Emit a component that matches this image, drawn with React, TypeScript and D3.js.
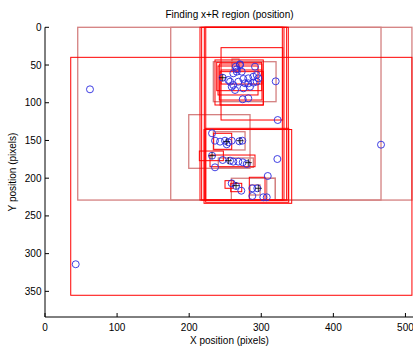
import React from "react";
import * as d3 from "d3";

const W = 413;
const H = 349;

// Axis ticks
const xTicks = [0, 100, 200, 300, 400, 500];
const yTicks = [0, 50, 100, 150, 200, 250, 300, 350];

// Search regions [x1, y1, x2, y2] in image pixels
const regionsStrong: [number, number, number, number][] = [
  [35.7, 39.8, 509, 355.2],
  [215, 0, 337.5, 229],
  [217.3, 0, 335.2, 229],
  [221, 0, 331.5, 229],
  [223, 0, 329.2, 229],
  [244.2, 27, 329.8, 122.9],
  [235.8, 43.3, 302.8, 103],
  [238.2, 46.4, 300.6, 84],
  [241.8, 48.6, 301, 96.4],
  [240, 51.3, 295.5, 89.7],
  [244.2, 56.6, 301, 75.2],
  [242.8, 58.8, 302.8, 103],
  [222.9, 133.9, 338.1, 231.9],
  [220.6, 135.5, 342.2, 233.3],
  [214.1, 164, 247.4, 176.8],
  [234, 140.5, 259, 161.7],
  [228.9, 169.3, 291.3, 184.8],
  [249.7, 203.3, 261.2, 213.4],
  [257.6, 206.8, 272.9, 217.9],
  [283.4, 198.8, 305.2, 228.9],
];

const regionsFaint: [number, number, number, number][] = [
  [45.4, 0, 509, 229],
  [174.4, 0, 466.1, 229],
  [233.5, 45.6, 320.5, 98.6],
  [259.4, 42, 269.1, 56.6],
  [199.4, 115.8, 284.4, 186.9],
  [233.5, 138.4, 277.5, 162.6],
  [240.4, 173.2, 289, 185.6],
  [258.5, 200.1, 319.5, 228.9],
  [307.6, 200.1, 319.5, 228.9],
  [284.4, 209, 298.3, 222.3],
];

// Detected positions
const pointX = [
  62.4, 320, 466.1, 42.6, 322.8, 322.3, 309,
  264.6, 270.5, 291.3, 275.1, 256.7, 282, 293.7, 261.2, 274.3, 282, 246.5, 266,
  289, 295.9, 270.5, 266, 261.2, 272.9, 293.7, 282, 268.2, 277.5, 289, 259,
  263.6, 275.1, 284.4, 254.3,
  231.7, 235.8, 242.8, 249.7, 254.3, 259, 252.1, 269.6, 273.7, 231.7, 246.5,
  235.8, 256.7, 261.2, 268.2, 274.3, 279.8,
  259, 265, 272.3, 287.6, 287.6, 294.5, 302.8, 307.6,
];
const pointY = [
  82.2, 71.6, 155.6, 314.1, 122.9, 174.6, 197.1,
  52.2, 50, 52.2, 68.5, 72.1, 74.2, 72.1, 76.5, 95.4, 94.1, 66.8, 58.8,
  65.5, 67.6, 49, 55.7, 61, 58.8, 63.2, 67.6, 72.1, 74.2, 73.4, 78.7,
  83.1, 80.9, 78.7, 69.8,
  140.5, 150.3, 151.6, 150.3, 152.4, 150.3, 155.1, 151.1, 150.3, 170.2, 175.9,
  185.6, 176.8, 178.1, 178.1, 178.9, 181.2,
  206.8, 210.3, 216.6, 213.4, 223.6, 213.4, 225.3, 225.3,
];

// Region centres
const centerX = [246.5, 231.7, 254.3, 282, 270.5, 265, 295.9, 252.1];
const centerY = [66.8, 170.2, 176.8, 179.4, 150.3, 209.9, 213.4, 151.6];

const FONT = "'Liberation Sans', Arial, Helvetica, sans-serif";

export default function App() {
  const x = d3.scaleLinear().domain([0, 512]).range([45, 414.1]);
  const y = d3.scaleLinear().domain([0, 384]).range([27.3, 317]);
  const tickLen = 4;

  const rect = (r: [number, number, number, number], i: number, stroke: string, sw: number) => (
    <rect
      key={i}
      x={x(r[0])}
      y={y(r[1])}
      width={x(r[2]) - x(r[0])}
      height={y(r[3]) - y(r[1])}
      fill="none"
      stroke={stroke}
      strokeWidth={sw}
    />
  );

  return (
    <svg
      width={W}
      height={H}
      style={{ position: "absolute", left: 0, top: 0, background: "#fff" }}
      fontFamily={FONT}
    >
      <rect x={0} y={0} width={W} height={H} fill="#fff" />
      <defs>
        <clipPath id="plot">
          <rect x={x(0)} y={y(0) - 2} width={x(512) - x(0)} height={y(384) - y(0) + 2} />
        </clipPath>
      </defs>
      <g clipPath="url(#plot)">
        {regionsFaint.map((r, i) => rect(r, i, "rgb(212,128,128)", 1.3))}
        {regionsStrong.map((r, i) => rect(r, i, "#ff0000", 1))}
        {pointX.map((px, i) => (
          <circle
            key={i}
            cx={x(px)}
            cy={y(pointY[i])}
            r={3.5}
            fill="none"
            stroke="#2a2ae0"
            strokeWidth={0.9}
          />
        ))}
        {centerX.map((cx, i) => (
          <g key={i} stroke="#000" strokeWidth={0.8}>
            <line x1={x(cx) - 3.5} x2={x(cx) + 3.5} y1={y(centerY[i])} y2={y(centerY[i])} />
            <line x1={x(cx)} x2={x(cx)} y1={y(centerY[i]) - 3.5} y2={y(centerY[i]) + 3.5} />
          </g>
        ))}
      </g>

      {/* axes */}
      <g stroke="#000" strokeWidth={1}>
        <line x1={x(0)} x2={x(0)} y1={y(0)} y2={y(384)} />
        <line x1={x(0)} x2={x(512)} y1={y(384)} y2={y(384)} />
        {xTicks.map((t) => (
          <line key={t} x1={x(t)} x2={x(t)} y1={y(384)} y2={y(384) - tickLen} />
        ))}
        {yTicks.map((t) => (
          <line key={t} x1={x(0)} x2={x(0) + tickLen} y1={y(t)} y2={y(t)} />
        ))}
      </g>
      <g fontSize={10} fill="#000">
        {xTicks.map((t) => (
          <text key={t} x={x(t)} y={331} textAnchor="middle">
            {t}
          </text>
        ))}
        {yTicks.map((t) => (
          <text key={t} x={41.5} y={y(t) + 3.5} textAnchor="end">
            {t}
          </text>
        ))}
        <text x={229.5} y={18} textAnchor="middle">
          Finding x+R region (position)
        </text>
        <text x={229.5} y={344} textAnchor="middle">
          X position (pixels)
        </text>
        <text x={0} y={0} textAnchor="middle" transform={`translate(16,172) rotate(-90)`}>
          Y position (pixels)
        </text>
      </g>
    </svg>
  );
}
